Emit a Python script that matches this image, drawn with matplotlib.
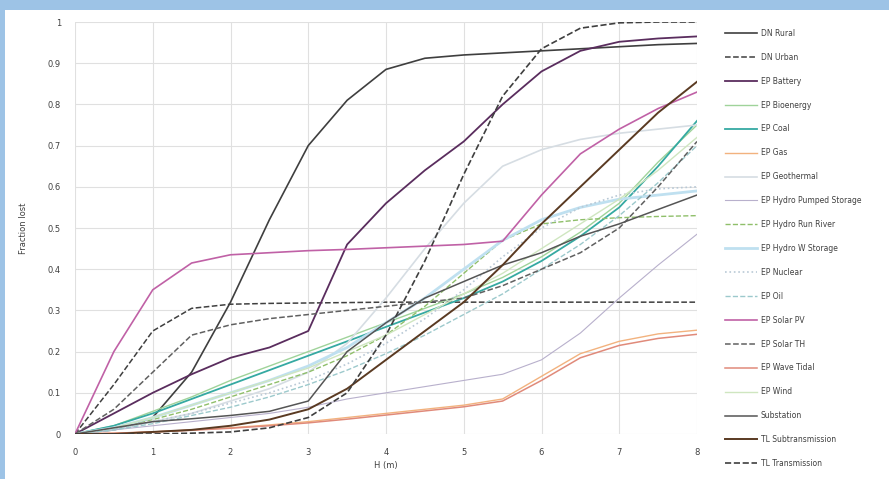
import numpy as np
import matplotlib
matplotlib.use('Agg')
import matplotlib.pyplot as plt
from matplotlib.patches import Rectangle

# water depth (m)
h = [0, 0.5, 1, 1.5, 2, 2.5, 3, 3.5, 4, 4.5, 5, 5.5, 6, 6.5, 7, 7.5, 8]

dn_rural = [0, 0.01, 0.04, 0.15, 0.32, 0.52, 0.70, 0.81, 0.885, 0.912, 0.92, 0.925, 0.93, 0.935, 0.94, 0.945, 0.948]
dn_urban = [0, 0.12, 0.25, 0.305, 0.315, 0.317, 0.318, 0.319, 0.32, 0.32, 0.32, 0.32, 0.32, 0.32, 0.32, 0.32, 0.32]
ep_battery = [0, 0.05, 0.1, 0.145, 0.185, 0.21, 0.25, 0.46, 0.56, 0.64, 0.71, 0.8, 0.88, 0.93, 0.952, 0.96, 0.965]
ep_bioenergy = [0, 0.02, 0.055, 0.09, 0.13, 0.165, 0.2, 0.235, 0.27, 0.305, 0.34, 0.38, 0.43, 0.49, 0.56, 0.66, 0.75]
ep_coal = [0, 0.02, 0.05, 0.085, 0.12, 0.155, 0.19, 0.225, 0.26, 0.295, 0.33, 0.37, 0.42, 0.48, 0.55, 0.65, 0.76]
ep_gas = [0, 0.002, 0.005, 0.01, 0.015, 0.022, 0.03, 0.04, 0.05, 0.06, 0.07, 0.085, 0.14, 0.195, 0.225, 0.243, 0.252]
ep_geothermal = [0, 0.01, 0.03, 0.05, 0.08, 0.11, 0.15, 0.22, 0.33, 0.45, 0.56, 0.65, 0.69, 0.715, 0.73, 0.74, 0.75]
ep_hydro_ps = [0, 0.01, 0.02, 0.03, 0.04, 0.05, 0.065, 0.085, 0.1, 0.115, 0.13, 0.145, 0.18, 0.245, 0.33, 0.41, 0.485]
ep_hydro_rr = [0, 0.015, 0.035, 0.06, 0.09, 0.12, 0.15, 0.19, 0.24, 0.31, 0.39, 0.47, 0.51, 0.52, 0.525, 0.528, 0.53]
ep_hydro_ws = [0, 0.015, 0.04, 0.07, 0.1, 0.13, 0.165, 0.21, 0.27, 0.33, 0.4, 0.47, 0.52, 0.55, 0.57, 0.58, 0.59]
ep_nuclear = [0, 0.01, 0.03, 0.05, 0.075, 0.1, 0.13, 0.17, 0.22, 0.28, 0.35, 0.43, 0.5, 0.55, 0.58, 0.595, 0.6]
ep_oil = [0, 0.01, 0.025, 0.045, 0.065, 0.09, 0.12, 0.155, 0.195, 0.24, 0.29, 0.34, 0.4, 0.46, 0.53, 0.61, 0.7]
ep_solar_pv = [0, 0.2, 0.35, 0.415, 0.435, 0.44, 0.445, 0.448, 0.452, 0.456, 0.46, 0.468, 0.58, 0.68, 0.74, 0.79, 0.83]
ep_solar_th = [0, 0.06, 0.15, 0.24, 0.265, 0.28, 0.29, 0.3, 0.31, 0.32, 0.33, 0.36, 0.4, 0.44, 0.5, 0.6, 0.71]
ep_wave_tidal = [0, 0.002, 0.005, 0.009, 0.014, 0.02, 0.027, 0.036, 0.046, 0.056, 0.066, 0.08, 0.13, 0.185, 0.215, 0.232, 0.242]
ep_wind = [0, 0.015, 0.04, 0.07, 0.1, 0.13, 0.16, 0.2, 0.24, 0.29, 0.34, 0.39, 0.45, 0.51, 0.57, 0.64, 0.72]
substation = [0, 0.015, 0.03, 0.037, 0.045, 0.055, 0.08, 0.2, 0.27, 0.33, 0.37, 0.41, 0.44, 0.48, 0.51, 0.545, 0.58]
tl_subtrans = [0, 0, 0.005, 0.01, 0.02, 0.035, 0.06, 0.11, 0.18, 0.25, 0.32, 0.41, 0.51, 0.6, 0.69, 0.78, 0.855]
tl_trans = [0, 0, 0, 0.002, 0.005, 0.015, 0.04, 0.1, 0.24, 0.42, 0.63, 0.82, 0.935, 0.985, 0.998, 1.0, 1.0]

series = [
    ('DN Rural', dn_rural, '#3f3f3f', '-', 1.2),
    ('DN Urban', dn_urban, '#3f3f3f', '--', 1.1),
    ('EP Battery', ep_battery, '#5a2d5e', '-', 1.3),
    ('EP Bioenergy', ep_bioenergy, '#9fd39a', '-', 1.0),
    ('EP Coal', ep_coal, '#35a9a2', '-', 1.3),
    ('EP Gas', ep_gas, '#f2b27e', '-', 1.0),
    ('EP Geothermal', ep_geothermal, '#d6dde3', '-', 1.2),
    ('EP Hydro Pumped Storage', ep_hydro_ps, '#b8b0cc', '-', 0.8),
    ('EP Hydro Run River', ep_hydro_rr, '#8fbf6a', '--', 1.0),
    ('EP Hydro W Storage', ep_hydro_ws, '#bfe0f0', '-', 2.0),
    ('EP Nuclear', ep_nuclear, '#b9c9d6', ':', 1.2),
    ('EP Oil', ep_oil, '#9cc9cc', '--', 1.0),
    ('EP Solar PV', ep_solar_pv, '#c061a6', '-', 1.2),
    ('EP Solar TH', ep_solar_th, '#606060', '--', 1.1),
    ('EP Wave Tidal', ep_wave_tidal, '#e08a7a', '-', 1.1),
    ('EP Wind', ep_wind, '#cfe6c0', '-', 1.0),
    ('Substation', substation, '#555555', '-', 1.1),
    ('TL Subtransmission', tl_subtrans, '#5a3a22', '-', 1.4),
    ('TL Transmission', tl_trans, '#3f3f3f', '--', 1.2),
]

fig = plt.figure(figsize=(8.89, 4.79), dpi=100, facecolor='white')
# blue frame at top and left, like the source screenshot
fig.patches.append(Rectangle((0, 1 - 10 / 479), 1, 10 / 479, transform=fig.transFigure,
                             facecolor='#9dc3e6', edgecolor='none', zorder=-1))
fig.patches.append(Rectangle((0, 0), 5 / 889, 1, transform=fig.transFigure,
                             facecolor='#9dc3e6', edgecolor='none', zorder=-1))

ax = fig.add_axes([75 / 889, 1 - 434 / 479, (697 - 75) / 889, (434 - 22) / 479])

for name, vals, col, ls, lw in series:
    ax.plot(h, vals, color=col, linestyle=ls, linewidth=lw, label=name)

ax.set_xlim(0, 8)
ax.set_ylim(0, 1)
ax.set_xticks(range(0, 9))
ax.set_yticks(np.arange(0, 1.01, 0.1))
ax.set_yticklabels(['0', '0.1', '0.2', '0.3', '0.4', '0.5', '0.6', '0.7', '0.8', '0.9', '1'])
ax.grid(True, color='#e0e0e0', linewidth=0.8)
ax.set_axisbelow(True)
for s in ax.spines.values():
    s.set_visible(False)
ax.tick_params(length=0, labelsize=6, colors='#404040', pad=10)
ax.set_xlabel('H (m)', fontsize=6, color='#404040', labelpad=3)
ax.set_ylabel('Fraction lost', fontsize=6, color='#404040', labelpad=14)

leg = ax.legend(loc='upper left', bbox_to_anchor=(718 / 889, 1 - 22 / 479),
                bbox_transform=fig.transFigure, frameon=False, fontsize=5.5,
                handlelength=4.2, labelspacing=1.95, handletextpad=0.5)
for t in leg.get_texts():
    t.set_color('#404040')

fig.savefig('out.png', dpi=100)
